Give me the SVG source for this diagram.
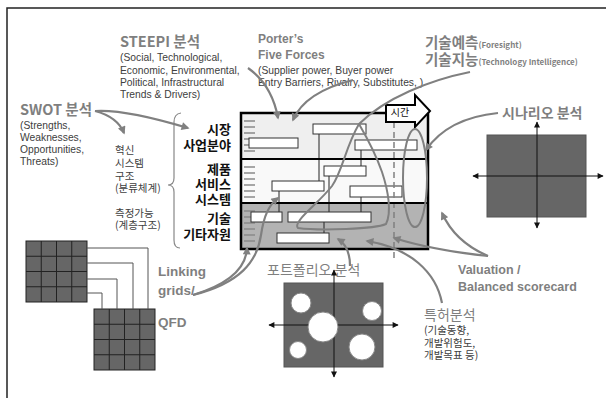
<svg xmlns="http://www.w3.org/2000/svg" width="606" height="398" viewBox="0 0 606 398">
<style>
text{font-family:"Noto Sans CJK KR","Liberation Sans",sans-serif}
.h{font-size:14.5px;font-weight:bold;fill:#7f7f7f}
.l{font-family:"Liberation Sans",sans-serif;font-weight:bold;fill:#7f7f7f}
.g{font-size:14px;fill:#7f7f7f}
.s{font-family:"Liberation Sans","Noto Sans CJK KR",sans-serif;font-size:10.3px;fill:#404040}
.k{font-size:10.5px;fill:#404040}
.r{font-size:13px;font-weight:bold;fill:#111;text-anchor:end}
.arr{fill:none;stroke:#808080;stroke-width:2.2;marker-end:url(#ah)}
.cur{fill:none;stroke:#808080;stroke-width:2}
.bar{fill:#fff;stroke:#333;stroke-width:1}
.lnk{stroke:#222;stroke-width:1;fill:none}
.tk{stroke:#8a8a8a;stroke-width:1.5}
.ax{stroke:#111;stroke-width:1;marker-start:url(#ax);marker-end:url(#ax)}
.gl{stroke:#222;stroke-width:1}
.cg{fill:#fff;stroke:#888;stroke-width:1}
</style>
<defs>
<marker id="ah" viewBox="0 0 10 10" refX="8" refY="5" markerWidth="9" markerHeight="8" markerUnits="userSpaceOnUse" orient="auto"><path d="M0,0 L10,5 L0,10 Z" fill="#808080"/></marker>
<marker id="ax" viewBox="0 0 10 10" refX="9" refY="5" markerWidth="7" markerHeight="6" markerUnits="userSpaceOnUse" orient="auto-start-reverse"><path d="M0,0 L10,5 L0,10 Z" fill="#111"/></marker>
</defs>
<rect x="0" y="0" width="606" height="398" fill="#fff"/>
<rect x="7" y="8" width="610" height="400" fill="none" stroke="#222" stroke-width="1.5"/>

<g id="roadmap">
<rect x="241" y="113" width="187" height="46" fill="#efefef"/>
<rect x="241" y="159" width="187" height="44" fill="#f9f9f9"/>
<rect x="241" y="203" width="187" height="46" fill="#b3b3b3"/>
<g class="tk">
<line x1="244" y1="121" x2="255" y2="121"/><line x1="244" y1="127" x2="255" y2="127"/><line x1="244" y1="133" x2="255" y2="133"/><line x1="244" y1="139" x2="255" y2="139"/><line x1="244" y1="145" x2="255" y2="145"/><line x1="244" y1="151" x2="255" y2="151"/>
<line x1="244" y1="167" x2="255" y2="167"/><line x1="244" y1="173" x2="255" y2="173"/><line x1="244" y1="179" x2="255" y2="179"/><line x1="244" y1="185" x2="255" y2="185"/><line x1="244" y1="191" x2="255" y2="191"/><line x1="244" y1="197" x2="255" y2="197"/>
<line x1="244" y1="211" x2="255" y2="211"/><line x1="244" y1="217" x2="255" y2="217"/><line x1="244" y1="223" x2="255" y2="223"/><line x1="244" y1="229" x2="255" y2="229"/><line x1="244" y1="235" x2="255" y2="235"/><line x1="244" y1="241" x2="255" y2="241"/>
</g>
<g class="lnk">
<line x1="319" y1="134" x2="319" y2="181"/>
<line x1="361" y1="150" x2="361" y2="166"/>
<line x1="329" y1="176" x2="329" y2="212"/>
<line x1="279" y1="191" x2="279" y2="212"/>
<line x1="361" y1="197" x2="361" y2="212"/>
<line x1="324" y1="222" x2="324" y2="233"/>
</g>
<rect class="bar" x="313" y="124" width="53" height="10"/>
<rect class="bar" x="249" y="138" width="49" height="10"/>
<rect class="bar" x="355" y="140" width="62" height="10"/>
<rect class="bar" x="324" y="166" width="42" height="10"/>
<rect class="bar" x="272" y="181" width="52" height="10"/>
<rect class="bar" x="350" y="186" width="52" height="11"/>
<rect class="bar" x="251" y="212" width="31" height="10"/>
<rect class="bar" x="288" y="212" width="83" height="10"/>
<rect class="bar" x="277" y="233" width="52" height="10"/>
<line x1="394" y1="122" x2="394" y2="258" stroke="#808080" stroke-width="1.5" stroke-dasharray="6,4"/>
<line x1="241" y1="159" x2="428" y2="159" stroke="#000" stroke-width="2"/>
<line x1="241" y1="203" x2="428" y2="203" stroke="#000" stroke-width="2"/>
<rect x="241" y="113" width="187" height="136" fill="none" stroke="#000" stroke-width="2.5"/>
<path d="M386,105 L415,105 L415,95 L430,111 L415,127 L415,122 L386,122 Z" fill="#fff" stroke="#000" stroke-width="2"/>
<text x="400" y="116" font-size="10" fill="#111" text-anchor="middle">시간</text>
<text class="r" x="231" y="134">시장</text>
<text class="r" x="231" y="150">사업분야</text>
<text class="r" x="231" y="174">제품</text>
<text class="r" x="231" y="189">서비스</text>
<text class="r" x="231" y="204">시스템</text>
<text class="r" x="231" y="223">기술</text>
<text class="r" x="231" y="239">기타자원</text>
</g>

<g id="brace">
<path d="M181,113 Q174,114 174,122 L174,178 Q174,185 168,185 Q174,185 174,192 L174,240 Q174,248 180,248" fill="none" stroke="#888" stroke-width="1.2"/>
</g>

<g id="steepi">
<text class="h" x="120" y="47">STEEPI 분석</text>
<text class="s" x="120" y="61">(Social, Technological,</text>
<text class="s" x="120" y="73.5">Economic, Environmental,</text>
<text class="s" x="120" y="86">Political, Infrastructural</text>
<text class="s" x="120" y="98">Trends &amp; Drivers)</text>
</g>
<g id="swot">
<text class="h" x="20" y="115">SWOT 분석</text>
<text class="s" x="20" y="129">(Strengths,</text>
<text class="s" x="20" y="141">Weaknesses,</text>
<text class="s" x="20" y="153">Opportunities,</text>
<text class="s" x="20" y="165">Threats)</text>
</g>
<g id="structure">
<text class="k" x="115" y="154">혁신</text>
<text class="k" x="115" y="167">시스템</text>
<text class="k" x="115" y="180">구조</text>
<text class="k" x="115" y="192">(분류체계)</text>
<text class="k" x="115" y="217">측정가능</text>
<text class="k" x="115" y="229">(계층구조)</text>
</g>
<g id="porter">
<text class="l" x="258" y="43" font-size="12">Porter’s</text>
<text class="l" x="258" y="59" font-size="12">Five Forces</text>
<text class="s" x="258" y="74">(Supplier power,  Buyer power</text>
<text class="s" x="258" y="86">Entry Barriers, Rivalry, Substitutes, )</text>
</g>
<g id="foresight">
<text class="h" x="425" y="48" font-size="14">기술예측<tspan font-size="8">(Foresight)</tspan></text>
<text class="h" x="425" y="65" font-size="14">기술지능<tspan font-size="8">(Technology  Intelligence)</tspan></text>
</g>
<g id="scenario">
<text class="g" x="502" y="118" font-size="15" font-weight="bold">시나리오 분석</text>
<rect x="487" y="135" width="99" height="82" fill="#666" stroke="#555"/>
<line class="ax" x1="473" y1="176" x2="603" y2="176"/>
<line class="ax" x1="537" y1="122" x2="537" y2="228"/>
</g>
<g id="portfolio">
<text class="g" x="267" y="275">포트폴리오 분석</text>
<rect x="284" y="283" width="99" height="84" fill="#666" stroke="#555"/>
<line class="ax" x1="269" y1="325" x2="398" y2="325"/>
<line class="ax" x1="334" y1="270" x2="334" y2="377"/>
<circle class="cg" cx="301" cy="303" r="10"/>
<circle class="cg" cx="372" cy="311" r="9.5"/>
<circle class="cg" cx="323" cy="327" r="15"/>
<circle class="cg" cx="298" cy="350" r="8.5"/>
<circle class="cg" cx="362" cy="347" r="13"/>
</g>
<g id="valuation">
<text class="l" x="458" y="274" font-size="12.5">Valuation /</text>
<text class="l" x="458" y="291" font-size="12.5">Balanced  scorecard</text>
</g>
<g id="patent">
<text class="g" x="424" y="320" font-size="15">특허분석</text>
<text class="k" x="424" y="334">(기술동향,</text>
<text class="k" x="424" y="347">개발위험도,</text>
<text class="k" x="424" y="359">개발목표 등)</text>
</g>
<g id="qfd">
<g fill="#666" stroke="#222" stroke-width="1">
<rect x="26" y="241" width="61" height="61"/>
<rect x="94" y="309" width="61" height="61"/>
</g>
<g class="gl">
<line x1="41.25" y1="241" x2="41.25" y2="302"/><line x1="56.5" y1="241" x2="56.5" y2="302"/><line x1="71.75" y1="241" x2="71.75" y2="302"/>
<line x1="26" y1="256.25" x2="87" y2="256.25"/><line x1="26" y1="271.5" x2="87" y2="271.5"/><line x1="26" y1="286.75" x2="87" y2="286.75"/>
<line x1="109.25" y1="309" x2="109.25" y2="370"/><line x1="124.5" y1="309" x2="124.5" y2="370"/><line x1="139.75" y1="309" x2="139.75" y2="370"/>
<line x1="94" y1="324.25" x2="155" y2="324.25"/><line x1="94" y1="339.5" x2="155" y2="339.5"/><line x1="94" y1="354.75" x2="155" y2="354.75"/>
</g>
<g fill="none" stroke="#555" stroke-width="1">
<polyline points="87,248 148,248 148,309"/>
<polyline points="87,263 133,263 133,309"/>
<polyline points="87,279 117,279 117,309"/>
<polyline points="87,293 102,293 102,309"/>
</g>
<text class="l" x="158" y="276" font-size="13.5">Linking</text>
<text class="l" x="158" y="295" font-size="13.5">grids/</text>
<text class="l" x="158" y="327" font-size="13.5">QFD</text>
</g>

<g id="connectors">
<path class="arr" d="M95,111 C110,115 120,123 124,133"/>
<path class="arr" d="M95,111 Q125,109 188,128"/>
<path class="arr" d="M248,68 Q272,85 278,118"/>
<path class="arr" d="M353,80 Q305,92 293,120"/>
<path class="arr" d="M498,113 Q448,118 426,150"/>
<path class="arr" d="M488,256 Q455,242 442,213"/>
<path class="arr" d="M488,256 Q432,250 394,238"/>
<path class="arr" d="M350,266 C350,252 346,244 338,239"/>
<path class="arr" d="M442,303 C436,272 410,248 367,241"/>
<path class="arr" d="M193,295 C226,285 246,270 247,248"/>
<path class="arr" d="M193,295 C240,283 257,262 261,235 C264,215 269,205 278,198"/>
<path class="cur" d="M470,72 C430,80 385,98 359,124 C345,148 343,170 332,186 C318,204 292,222 298,228 C320,231 375,229 386,224 C392,212 388,190 382,172 C375,152 366,136 359,124"/>
<ellipse class="cur" cx="415" cy="178" rx="12" ry="49"/>
</g>
</svg>
